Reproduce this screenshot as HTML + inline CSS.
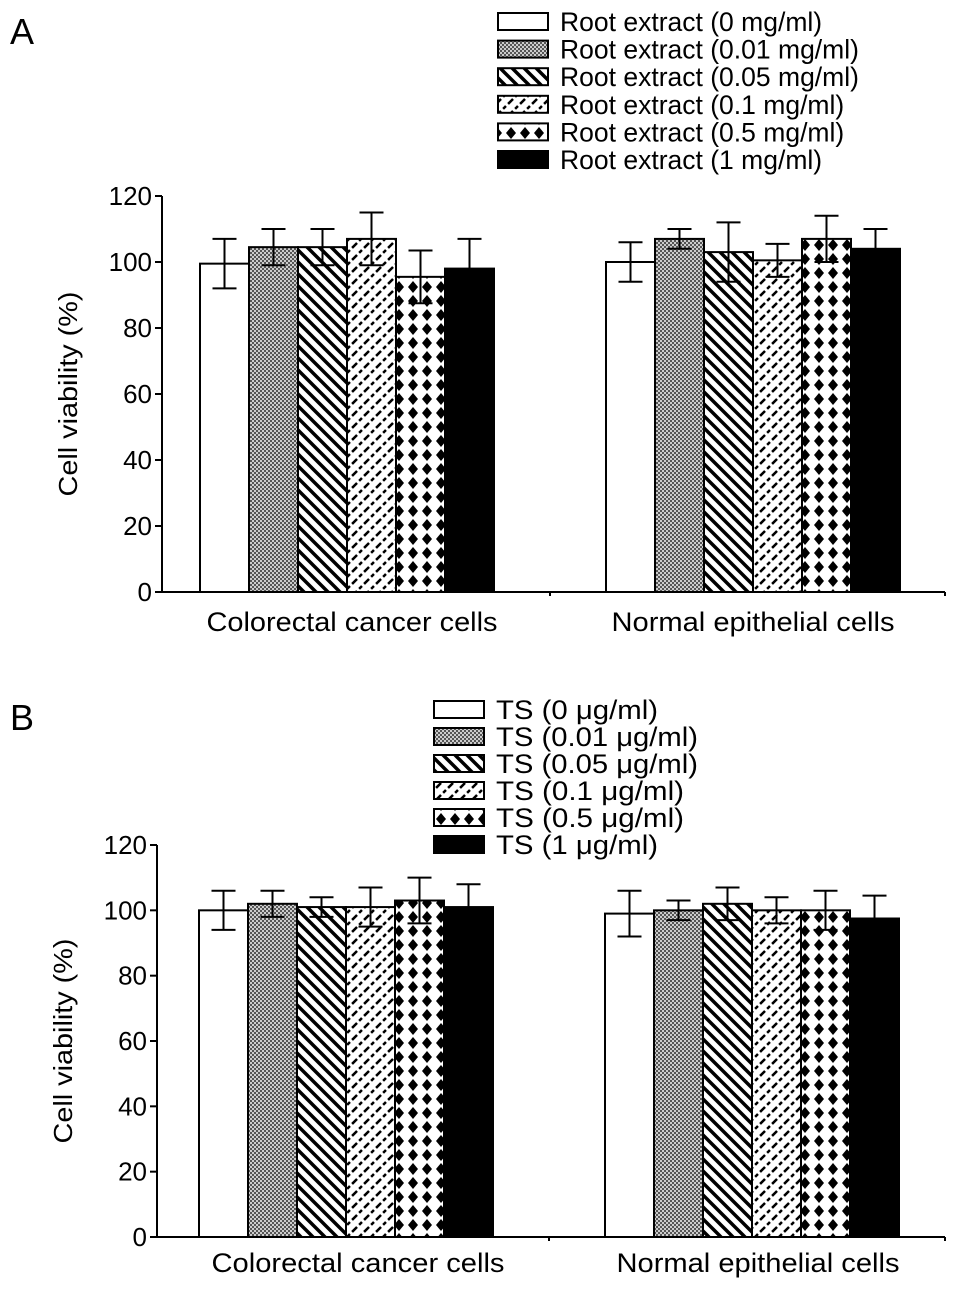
<!DOCTYPE html>
<html><head><meta charset="utf-8"><style>
html,body{margin:0;padding:0;background:#fff;}
svg{display:block;font-family:"Liberation Sans",Arial,sans-serif;}
</style></head><body>
<svg id="chart" width="969" height="1289" viewBox="0 0 969 1289" xmlns="http://www.w3.org/2000/svg">
<defs>
<pattern id="p0" width="4" height="4" patternUnits="userSpaceOnUse"><rect width="4" height="4" fill="#fff"/></pattern>
<pattern id="p1" width="4" height="4" patternUnits="userSpaceOnUse"><rect width="4" height="4" fill="#555"/><rect x="0" y="0" width="2" height="2" fill="#ccc"/><rect x="2" y="2" width="2" height="2" fill="#ccc"/></pattern>
<pattern id="p2" width="12" height="12" patternUnits="userSpaceOnUse"><rect width="12" height="12" fill="#fff"/><path d="M-3,-3 L15,15 M-9,3 L3,15 M3,-9 L15,3" stroke="#000" stroke-width="3.5"/></pattern>
<pattern id="p3" width="12" height="12" patternUnits="userSpaceOnUse"><rect width="12" height="12" fill="#fff"/><path d="M-3,15 L15,-3 M-9,9 L3,-3 M9,15 L15,9" stroke="#000" stroke-width="2.5" stroke-dasharray="7 3"/></pattern>
<pattern id="p4" width="14" height="14" patternUnits="userSpaceOnUse"><rect width="14" height="14" fill="#fff"/><path d="M7,1 L12,7 L7,13 L2,7 Z" fill="#000"/></pattern>
<pattern id="p5" width="4" height="4" patternUnits="userSpaceOnUse"><rect width="4" height="4" fill="#000"/></pattern>
</defs>
<g id="panelA"></g>
<g id="panelB"></g>
</svg>
<script>
const categories = ["Colorectal cancer cells", "Normal epithelial cells"];
const yTicks = [0, 20, 40, 60, 80, 100, 120];
const seriesA = ["Root extract (0 mg/ml)", "Root extract (0.01 mg/ml)", "Root extract (0.05 mg/ml)", "Root extract (0.1 mg/ml)", "Root extract (0.5 mg/ml)", "Root extract (1 mg/ml)"];
const valuesA = [[99.5, 104.5, 104.5, 107, 95.5, 98], [100, 107, 103, 100.5, 107, 104]];
const errorsA = [[7.5, 5.5, 5.5, 8, 8, 9], [6, 3, 9, 5, 7, 6]];
const seriesB = ["TS (0 μg/ml)", "TS (0.01 μg/ml)", "TS (0.05 μg/ml)", "TS (0.1 μg/ml)", "TS (0.5 μg/ml)", "TS (1 μg/ml)"];
const valuesB = [[100, 102, 101, 101, 103, 101], [99, 100, 102, 100, 100, 97.5]];
const errorsB = [[6, 4, 3, 6, 7, 7], [7, 3, 5, 4, 6, 7]];

const NS = "http://www.w3.org/2000/svg";
function mk(parent, tag, attrs, text){
  const e = document.createElementNS(NS, tag);
  for (const k in attrs) e.setAttribute(k, attrs[k]);
  if (text !== undefined) e.textContent = text;
  parent.appendChild(e);
  return e;
}
function drawPanel(g, cfg){
  const {letter, series, values, errors, axX, y0, y120, xEnd, groupStarts, barW, legX, legY, legStep, legFont, legLen, catY, ylabX, catLens, catShift} = cfg;
  const yS = v => y0 - (v / 120) * (y0 - y120);
  let t = mk(g, "text", {x: 10, y: cfg.letterY, "font-size": 36}, letter);
  
  
  series.forEach((s, i) => {
    const y = legY + i * legStep;
    let r = mk(g, "rect", {x: legX, y: y - 8, width: 50, height: 17, fill: "url(#p" + i + ")", stroke: "#000", "stroke-width": 2});
    
    
    const attrs = {x: legX + 62, y: y + 10, "font-size": legFont};
    if (legLen) { attrs.textLength = legLen[i]; attrs.lengthAdjust = "spacingAndGlyphs"; }
    let lt = mk(g, "text", attrs, s);
    
    
  });
  categories.forEach((c, ci) => {
    values[ci].forEach((v, si) => {
      const x = groupStarts[ci] + si * barW;
      let b = mk(g, "rect", {x: x, y: yS(v), width: barW, height: y0 - yS(v), fill: "url(#p" + si + ")", stroke: "#000", "stroke-width": 2});
      
      
      const cx = x + barW / 2, e = errors[ci][si];
      let eb = mk(g, "path", {d: `M${cx},${yS(v + e)} L${cx},${yS(v - e)} M${cx - 12},${yS(v + e)} L${cx + 12},${yS(v + e)} M${cx - 12},${yS(v - e)} L${cx + 12},${yS(v - e)}`, stroke: "#000", "stroke-width": 2, fill: "none"});
      
      
    });
    let ct = mk(g, "text", {x: groupStarts[ci] + 3 * barW + catShift[ci], y: catY, "font-size": 27, "text-anchor": "middle", textLength: catLens[ci], lengthAdjust: "spacingAndGlyphs"}, c);
    
    
  });
  let ax = mk(g, "path", {d: `M${axX},${y120} L${axX},${y0} L${xEnd},${y0}`, stroke: "#000", "stroke-width": 2, fill: "none"});
  
  
  yTicks.forEach(v => {
    let tk = mk(g, "line", {x1: axX - 7, x2: axX, y1: yS(v), y2: yS(v), stroke: "#000", "stroke-width": 2});
    
    
    let tl = mk(g, "text", {x: axX - 10, y: yS(v) + 9, "font-size": 26, "text-anchor": "end"}, v);
    
    
  });
  [(groupStarts[0] + 6 * barW + groupStarts[1]) / 2, xEnd].forEach(x => {
    let xt = mk(g, "line", {x1: x, x2: x, y1: y0, y2: y0 + 4, stroke: "#000", "stroke-width": 2});
    
    
  });
  const my = (y0 + y120) / 2;
  let yl = mk(g, "text", {x: ylabX, y: my, "font-size": 26, "text-anchor": "middle", transform: `rotate(-90 ${ylabX} ${my})`, textLength: 205, lengthAdjust: "spacingAndGlyphs"}, "Cell viability (%)");
  
  
}
drawPanel(document.getElementById("panelA"), {letter: "A", letterY: 44, series: seriesA, values: valuesA, errors: errorsA,
  axX: 162, y0: 592, y120: 196, xEnd: 945, groupStarts: [200, 606], barW: 49, legX: 498, legY: 21, legStep: 27.6, legFont: 26.5, catY: 631, ylabX: 77, catLens: [291, 283], catShift: [5, 0]});
drawPanel(document.getElementById("panelB"), {letter: "B", letterY: 730, series: seriesB, values: valuesB, errors: errorsB,
  axX: 157, y0: 1237, y120: 845, xEnd: 945, groupStarts: [199, 605], barW: 49, legX: 434, legY: 709, legStep: 27, legFont: 27, legLen: [162, 202, 202, 188, 188, 162], catY: 1272, ylabX: 72, catLens: [293, 283], catShift: [12, 6]});
</script>
</body></html>
